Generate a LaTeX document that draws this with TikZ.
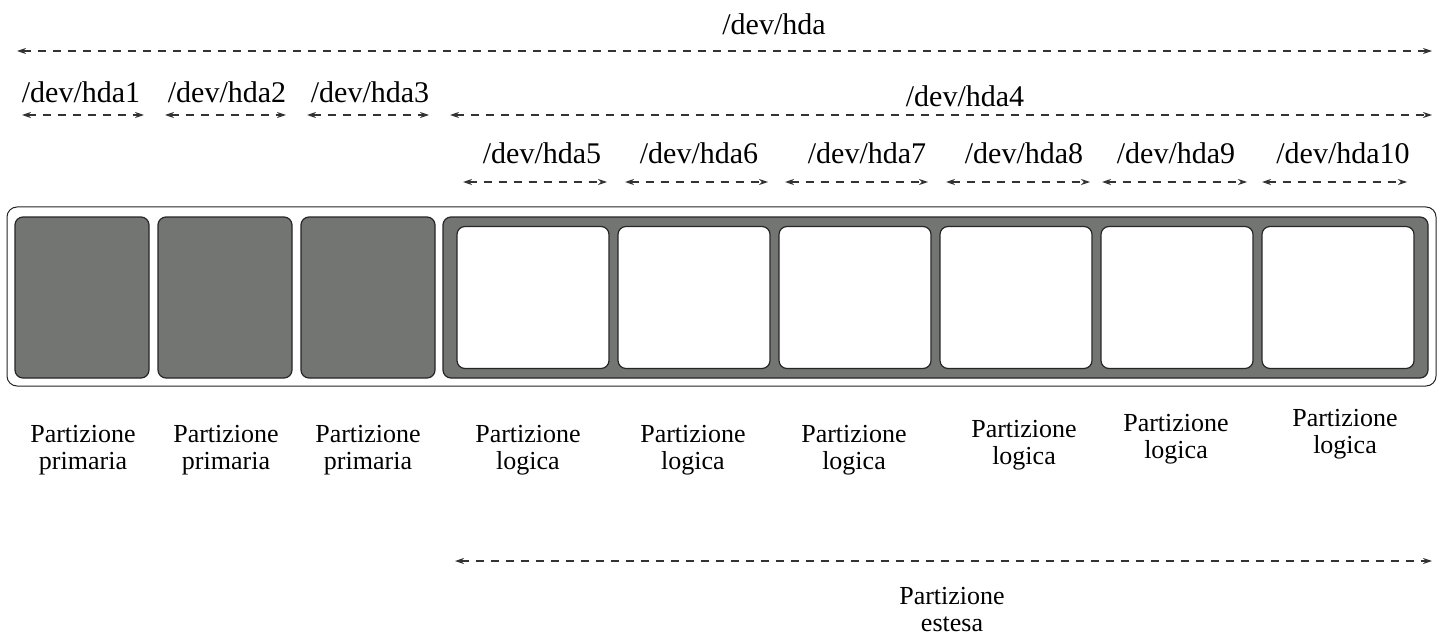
\documentclass[tikz,border=0pt]{standalone}
\usepackage{fontspec}
\setmainfont{Liberation Serif}
\usepackage{xcolor}
\usetikzlibrary{arrows.meta, positioning}
\definecolor{diskgray}{RGB}{115,117,114}

\begin{document}
\begin{tikzpicture}[
    x=0.5pt, y=-0.5pt,
    node distance=4.5pt,
    disk/.style={rectangle, rounded corners=5pt, draw=black!85, fill=white, line width=0.5pt, minimum width=714.5pt, minimum height=89.5pt, inner sep=0pt, outer sep=0pt},
    primary/.style={rectangle, rounded corners=4pt, draw=black!85, fill=diskgray, line width=0.6pt, minimum width=67pt, minimum height=80.5pt, inner sep=0pt, outer sep=0pt},
    extended/.style={primary, minimum width=492.5pt},
    logical/.style={rectangle, rounded corners=4pt, draw=black!85, fill=white, line width=0.6pt, minimum width=76pt, minimum height=71pt, inner sep=0pt, outer sep=0pt},
    devname/.style={font=\fontsize{15pt}{17pt}\selectfont, anchor=base, inner sep=0pt},
    desc/.style={font=\fontsize{13pt}{13.5pt}\selectfont, align=center, anchor=north, inner sep=0pt},
    extent/.style={{Stealth[length=4.5pt,width=3pt]}-{Stealth[length=4.5pt,width=3pt]}, draw=black!80, line width=0.6pt, dash pattern=on 4pt off 3.5pt}
]
\useasboundingbox (0,0) rectangle (1443,636);

% the disk and its partitions
\node[disk] (disk) at (721.5,296.5) {};
\node[primary] (p1) at (82,297.5) {};
\node[primary, right=of p1] (p2) {};
\node[primary, right=of p2] (p3) {};
\node[extended, right=4pt of p3] (ext) {};
\node[logical, anchor=west] (l5) at ([xshift=7pt]ext.west) {};
\node[logical, right=of l5] (l6) {};
\node[logical, right=of l6] (l7) {};
\node[logical, right=of l7] (l8) {};
\node[logical, right=of l8] (l9) {};
\node[logical, right=of l9] (l10) {};

% device names
\node[devname] (hda) at (774,35) {/dev/hda};
\node[devname] (hda1) at (81,103) {/dev/hda1};
\node[devname] (hda2) at (227,103) {/dev/hda2};
\node[devname] (hda3) at (370,103) {/dev/hda3};
\node[devname] (hda4) at (965,107) {/dev/hda4};
\node[devname] (hda5) at (542,164) {/dev/hda5};
\node[devname] (hda6) at (699,164) {/dev/hda6};
\node[devname] (hda7) at (867,164) {/dev/hda7};
\node[devname] (hda8) at (1024,164) {/dev/hda8};
\node[devname] (hda9) at (1176,164) {/dev/hda9};
\node[devname] (hda10) at (1343,164) {/dev/hda10};

% ends of the dashed spans
\coordinate (s0a) at (17,51);    \coordinate (s0b) at (1432,51);
\coordinate (s1a) at (22,115);   \coordinate (s1b) at (144,115);
\coordinate (s2a) at (165,115);  \coordinate (s2b) at (286,115);
\coordinate (s3a) at (307,115);  \coordinate (s3b) at (429,115);
\coordinate (s4a) at (450,115);  \coordinate (s4b) at (1432,115);
\coordinate (s5a) at (463,182);  \coordinate (s5b) at (607,182);
\coordinate (s6a) at (625,182);  \coordinate (s6b) at (768,182);
\coordinate (s7a) at (785,182);  \coordinate (s7b) at (928,182);
\coordinate (s8a) at (946,182);  \coordinate (s8b) at (1090,182);
\coordinate (s9a) at (1102,182); \coordinate (s9b) at (1247,182);
\coordinate (s10a) at (1262,182); \coordinate (s10b) at (1407,182);
\coordinate (sea) at (455,561);  \coordinate (seb) at (1432,561);

\draw[extent] (s0a) -- (s0b);
\draw[extent] (s1a) -- (s1b);
\draw[extent] (s2a) -- (s2b);
\draw[extent] (s3a) -- (s3b);
\draw[extent] (s4a) -- (s4b);
\draw[extent] (s5a) -- (s5b);
\draw[extent] (s6a) -- (s6b);
\draw[extent] (s7a) -- (s7b);
\draw[extent] (s8a) -- (s8b);
\draw[extent] (s9a) -- (s9b);
\draw[extent] (s10a) -- (s10b);
\draw[extent] (sea) -- (seb);

% descriptions
\node[desc] (d1) at (83,425) {Partizione\\primaria};
\node[desc] (d2) at (226,425) {Partizione\\primaria};
\node[desc] (d3) at (368,425) {Partizione\\primaria};
\node[desc] (d5) at (528,425) {Partizione\\logica};
\node[desc] (d6) at (693,425) {Partizione\\logica};
\node[desc] (d7) at (854,425) {Partizione\\logica};
\node[desc] (d8) at (1024,420) {Partizione\\logica};
\node[desc] (d9) at (1176,414) {Partizione\\logica};
\node[desc] (d10) at (1345,409) {Partizione\\logica};
\node[desc] (de) at (952,587) {Partizione\\estesa};

\end{tikzpicture}
\end{document}
